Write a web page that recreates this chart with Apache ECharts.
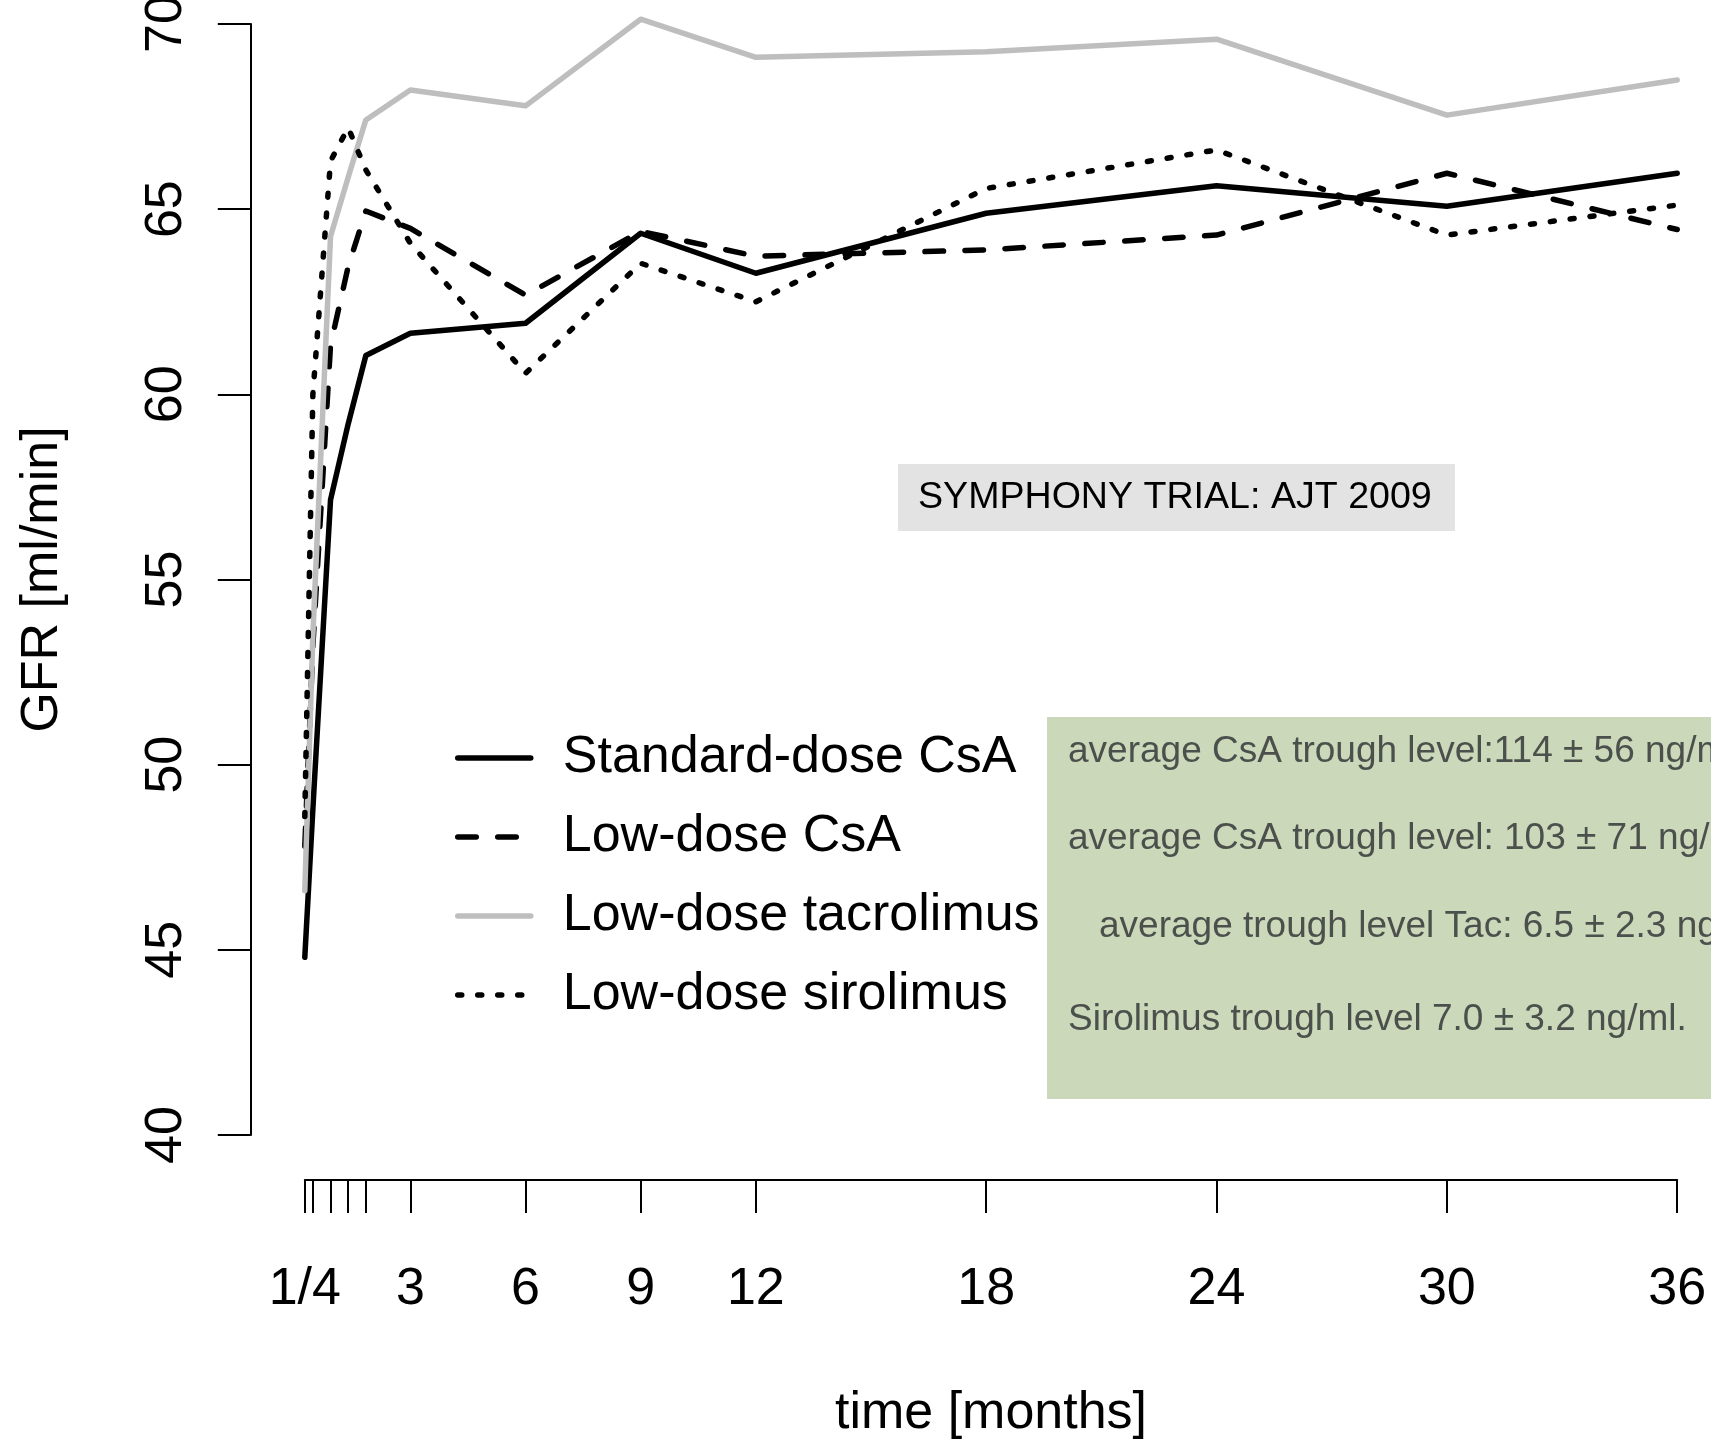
<!DOCTYPE html>
<html>
<head>
<meta charset="utf-8">
<title>GFR over time – SYMPHONY trial</title>
<script src="https://cdn.jsdelivr.net/npm/echarts@6/dist/echarts.min.js"></script>
<style>
  html, body { margin: 0; padding: 0; background: #ffffff; }
  #chart { width: 1711px; height: 1440px; }
</style>
</head>
<body>
<div id="chart"></div>
<script>
// Time points in months (first visits are weekly: 1, 2, 4, 6, 8 weeks)
const months = [0.25, 0.46, 0.92, 1.38, 1.84, 3, 6, 9, 12, 18, 24, 30, 36];

// Mean GFR [ml/min] per treatment arm
const standardDoseCsA    = [44.8, 48.8, 57.15, 59.2, 61.05, 61.65, 61.92, 64.35, 63.27, 64.89, 65.63, 65.08, 65.97];
const lowDoseCsA         = [47.8, 53.2, 61.33, 63.45, 64.95, 64.48, 62.68, 64.4, 63.73, 63.9, 64.30, 65.97, 64.45];
const lowDoseTacrolimus  = [46.6, 53.5, 64.26, 65.86, 67.41, 68.22, 67.79, 70.13, 69.10, 69.25, 69.59, 67.54, 68.49];
const lowDoseSirolimus   = [48.6, 60.0, 66.3, 67.2, 66.06, 64.08, 60.57, 63.54, 62.5, 65.56, 66.6, 64.3, 65.11];

const seriesNames = ['Standard-dose CsA', 'Low-dose CsA', 'Low-dose tacrolimus', 'Low-dose sirolimus'];

// Axis ticks
const xTickMonths  = [0.25, 0.46, 0.92, 1.38, 1.84, 3, 6, 9, 12, 18, 24, 30, 36];
const xLabelMonths = [0.25, 3, 6, 9, 12, 18, 24, 30, 36];
const xLabelText   = ['1/4', '3', '6', '9', '12', '18', '24', '30', '36'];

// Annotation texts
const titleNote = 'SYMPHONY TRIAL: AJT 2009';
const troughNotes = [
  'average CsA trough level:114 \u00b1 56 ng/ml',
  'average CsA trough level: 103 \u00b1 71 ng/ml',
  'average trough level Tac: 6.5 \u00b1 2.3 ng/ml',
  'Sirolimus trough level 7.0 \u00b1 3.2 ng/ml.'
];

const FONT = "'Liberation Sans', Arial, Helvetica, sans-serif";
const LW = 5.5;

const pairs = vals => months.map((m, i) => [m, vals[i]]);

function lineSeries(name, vals, color, type) {
  return {
    name: name,
    type: 'line',
    data: pairs(vals),
    symbol: 'none',
    clip: false,
    animation: false,
    silent: true,
    itemStyle: { color: color },
    lineStyle: { color: color, width: LW, type: type, cap: 'round', join: 'round' }
  };
}

const chart = echarts.init(document.getElementById('chart'), null, { renderer: 'canvas' });

chart.setOption({
  backgroundColor: '#ffffff',
  animation: false,
  textStyle: { fontFamily: FONT },
  grid: { left: 304.8, right: 33.8, top: 24, bottom: 305, containLabel: false, outerBoundsMode: 'none' },
  xAxis: {
    type: 'value',
    min: 0.25,
    max: 36,
    offset: 45,
    splitLine: { show: false },
    axisLine: { show: true, onZero: false, lineStyle: { color: '#000', width: 2 } },
    axisTick: { show: true, inside: false, length: 33, customValues: xTickMonths,
                lineStyle: { color: '#000', width: 2 } },
    axisLabel: {
      customValues: xLabelMonths,
      formatter: v => {
        const i = xLabelMonths.indexOf(v);
        return i >= 0 ? xLabelText[i] : '';
      },
      fontSize: 52, color: '#000', fontFamily: FONT, margin: 84
    },
    name: 'time [months]',
    nameLocation: 'middle',
    nameGap: 208,
    nameTextStyle: { fontSize: 52, color: '#000', fontFamily: FONT }
  },
  yAxis: {
    type: 'value',
    min: 40,
    max: 70,
    interval: 5,
    offset: 54,
    splitLine: { show: false },
    axisLine: { show: true, onZero: false, lineStyle: { color: '#000', width: 2 } },
    axisTick: { show: true, inside: false, length: 33, lineStyle: { color: '#000', width: 2 } },
    axisLabel: { rotate: 90, fontSize: 52, color: '#000', fontFamily: FONT, margin: 58 },
    name: 'GFR [ml/min]',
    nameLocation: 'middle',
    nameRotate: 90,
    nameGap: 182,
    nameTextStyle: { fontSize: 52, color: '#000', fontFamily: FONT }
  },
  legend: {
    data: seriesNames,
    orient: 'vertical',
    left: 455,
    top: 729,
    itemWidth: 73,
    itemHeight: 20,
    itemGap: 21,
    selectedMode: false,
    padding: 0,
    itemStyle: { opacity: 0 },
    lineStyle: { width: LW },
    textStyle: { fontSize: 52, color: '#000', fontFamily: FONT, lineHeight: 58, padding: [0, 0, 0, 27] }
  },
  series: [
    lineSeries(seriesNames[0], standardDoseCsA, '#000000', 'solid'),
    lineSeries(seriesNames[1], lowDoseCsA, '#000000', [18.5, 21.5]),
    lineSeries(seriesNames[2], lowDoseTacrolimus, '#bebebe', 'solid'),
    lineSeries(seriesNames[3], lowDoseSirolimus, '#000000', [4, 16])
  ],
  graphic: [
    {
      type: 'group',
      children: [
        { type: 'rect', shape: { x: 898, y: 464, width: 557, height: 67 },
          style: { fill: '#e3e3e3' }, silent: true },
        { type: 'text', x: 918, y: 498,
          style: { text: titleNote, font: '37.6px ' + FONT, fill: '#000',
                   textAlign: 'left', textVerticalAlign: 'middle' }, silent: true }
      ]
    },
    {
      type: 'group',
      children: [
        { type: 'rect', shape: { x: 1047, y: 717, width: 700, height: 382 },
          style: { fill: '#cbd8b9' }, silent: true },
        { type: 'text', x: 1068, y: 752,
          style: { text: troughNotes[0], font: '37px ' + FONT, fill: '#4c504c',
                   textAlign: 'left', textVerticalAlign: 'middle' }, silent: true },
        { type: 'text', x: 1068, y: 839,
          style: { text: troughNotes[1], font: '37px ' + FONT, fill: '#4c504c',
                   textAlign: 'left', textVerticalAlign: 'middle' }, silent: true },
        { type: 'text', x: 1099, y: 927,
          style: { text: troughNotes[2], font: '37px ' + FONT, fill: '#4c504c',
                   textAlign: 'left', textVerticalAlign: 'middle' }, silent: true },
        { type: 'text', x: 1068, y: 1020,
          style: { text: troughNotes[3], font: '37px ' + FONT, fill: '#4c504c',
                   textAlign: 'left', textVerticalAlign: 'middle' }, silent: true }
      ]
    }
  ]
});
</script>
</body>
</html>
